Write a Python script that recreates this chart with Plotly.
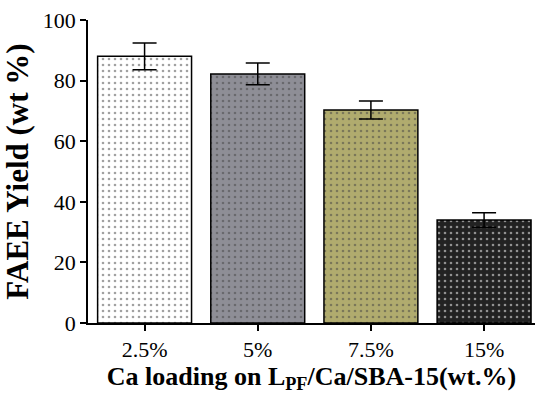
import plotly.graph_objects as go

categories = ["2.5%", "5%", "7.5%", "15%"]
yield_vals = [88.0, 82.2, 70.3, 34.0]
errors = [4.4, 3.6, 3.0, 2.4]
bar_colors = ["#ffffff", "#8e8e96", "#b0ab6e", "#222222"]

fig = go.Figure()
fig.add_trace(go.Bar(
    x=categories, y=yield_vals,
    width=0.83,
    marker=dict(color=bar_colors, line=dict(color="black", width=1.5),
                pattern=dict(shape=".", fgcolor="black", size=6, solidity=0.15)),
    error_y=dict(type="data", array=errors, visible=True, color="black",
                 thickness=1.5, width=12),
))

font = "Liberation Serif, Times New Roman, serif"
fig.update_layout(
    width=539, height=394,
    margin=dict(l=88, r=4, t=20, b=71),
    plot_bgcolor="white", paper_bgcolor="white",
    showlegend=False,
    font=dict(family=font, color="black", size=22),
    xaxis=dict(
        range=[-0.5, 3.45], showline=True, linecolor="black", linewidth=1.5,
        ticks="outside", ticklen=6, tickwidth=1.5, tickcolor="black",
        tickfont=dict(size=22, family=font),
        title=dict(text="<b>Ca loading on L<sub>PF</sub>/Ca/SBA-15(wt.%)</b>",
                   font=dict(size=26, family=font), standoff=4),
    ),
    yaxis=dict(
        range=[0, 100], tickvals=[0, 20, 40, 60, 80, 100],
        showline=True, linecolor="black", linewidth=1.5, showgrid=False,
        ticks="outside", ticklen=6, tickwidth=1.5, tickcolor="black",
        tickfont=dict(size=22, family=font), zeroline=False,
        title=dict(text="<b>FAEE Yield (wt %)</b>", font=dict(size=31, family=font), standoff=6),
    ),
)
fig.write_html("out.html")
